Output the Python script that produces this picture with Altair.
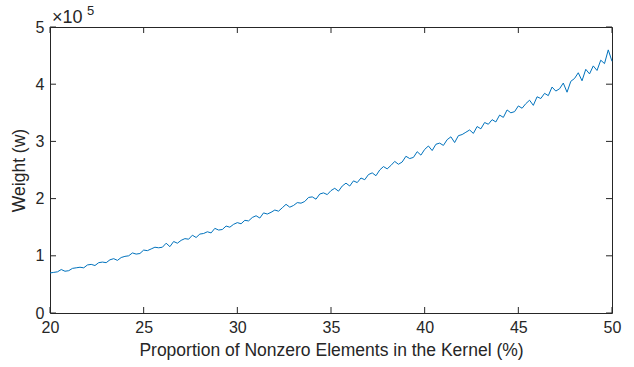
import altair as alt
import pandas as pd

# x: proportion of nonzero elements (%), step 0.2
x_start = 20.0
x_step = 0.2
# weight in units of 1e5
weights = [
    0.70, 0.71, 0.72, 0.76, 0.73,
    0.74, 0.78, 0.79, 0.80, 0.79,
    0.84, 0.85, 0.83, 0.88, 0.89,
    0.88, 0.93, 0.95, 0.92, 0.97,
    0.99, 1.00, 1.05, 1.03, 1.04,
    1.10, 1.09, 1.12, 1.15, 1.14,
    1.15, 1.22, 1.16, 1.25, 1.22,
    1.27, 1.30, 1.29, 1.36, 1.32,
    1.38, 1.39, 1.42, 1.40, 1.48,
    1.45, 1.46, 1.52, 1.50, 1.55,
    1.58, 1.56, 1.62, 1.61, 1.67,
    1.70, 1.66, 1.75, 1.73, 1.76,
    1.80, 1.78, 1.84, 1.90, 1.85,
    1.88, 1.93, 1.92, 1.95, 2.02,
    2.03, 1.99, 2.08, 2.10, 2.07,
    2.14, 2.18, 2.13, 2.22, 2.27,
    2.22, 2.31, 2.28, 2.36, 2.33,
    2.42, 2.45, 2.40, 2.50, 2.56,
    2.52, 2.58, 2.65, 2.60, 2.64,
    2.74, 2.70, 2.72, 2.82, 2.76,
    2.86, 2.92, 2.84, 2.95, 2.97,
    2.93, 3.03, 3.08, 2.98, 3.10,
    3.12, 3.16, 3.20, 3.14, 3.26,
    3.22, 3.33, 3.30, 3.38, 3.34,
    3.46, 3.42, 3.55, 3.50, 3.52,
    3.62, 3.58, 3.66, 3.72, 3.63,
    3.78, 3.75, 3.84, 3.80, 3.95,
    3.88, 3.92, 4.02, 3.86, 4.05,
    4.10, 4.20, 4.06, 4.26, 4.18,
    4.32, 4.24, 4.42, 4.36, 4.60,
    4.40,
]
x_ticks = [20, 25, 30, 35, 40, 45, 50]
y_ticks = [0, 1, 2, 3, 4, 5]

xs = [round(x_start + i * x_step, 2) for i in range(len(weights))]
df = pd.DataFrame({"x": xs, "w": weights})
xt = pd.DataFrame({"t": x_ticks})
yt = pd.DataFrame({"t": y_ticks})

W, H = 562, 286
AX = "#262626"
FONT = "Liberation Sans"

xscale = alt.Scale(domain=[20, 50], nice=False, zero=False)
yscale = alt.Scale(domain=[0, 5], nice=False)
common = dict(tickSize=0, domain=False, grid=False, labelFlush=False,
              labelFont=FONT, titleFont=FONT, labelFontSize=16, titleFontSize=17.5,
              labelColor=AX, titleColor=AX, titleFontWeight="normal")
xaxis = alt.Axis(values=x_ticks, labelPadding=6,
                 title="Proportion of Nonzero Elements in the Kernel (%)",
                 titlePadding=6, **common)
yaxis = alt.Axis(values=y_ticks, labelPadding=6, title="Weight (w)",
                 titlePadding=7, **common)

line = alt.Chart(df).mark_line(color="#0072BD", strokeWidth=1).encode(
    x=alt.X("x:Q", scale=xscale, axis=xaxis),
    y=alt.Y("w:Q", scale=yscale, axis=yaxis),
)

tick_style = dict(color=AX, strokeWidth=1)
xb = alt.Chart(xt).mark_rule(**tick_style).encode(
    x=alt.X("t:Q", scale=xscale, axis=xaxis), y=alt.value(H), y2=alt.value(H - 6))
xtop = alt.Chart(xt).mark_rule(**tick_style).encode(
    x=alt.X("t:Q", scale=xscale, axis=xaxis), y=alt.value(0), y2=alt.value(6))
yl = alt.Chart(yt).mark_rule(**tick_style).encode(
    y=alt.Y("t:Q", scale=yscale, axis=yaxis), x=alt.value(0), x2=alt.value(6))
yr = alt.Chart(yt).mark_rule(**tick_style).encode(
    y=alt.Y("t:Q", scale=yscale, axis=yaxis), x=alt.value(W), x2=alt.value(W - 6))

exp_base = alt.Chart(pd.DataFrame({"s": ["×10"]})).mark_text(
    font=FONT, fontSize=18, color=AX, align="left", baseline="alphabetic").encode(
    text="s:N", x=alt.value(2), y=alt.value(-4))
exp_sup = alt.Chart(pd.DataFrame({"s": ["5"]})).mark_text(
    font=FONT, fontSize=13, color=AX, align="left", baseline="alphabetic").encode(
    text="s:N", x=alt.value(37), y=alt.value(-12))

chart = alt.layer(line, xb, xtop, yl, yr, exp_base, exp_sup).properties(
    width=W, height=H,
    background="white",
    autosize=alt.AutoSizeParams(type="none"),
    padding={"left": 50, "top": 27, "right": 22, "bottom": 54},
).configure_view(stroke=AX, strokeWidth=1)

chart.save("out.html", embed_options={"renderer": "svg", "actions": False})
